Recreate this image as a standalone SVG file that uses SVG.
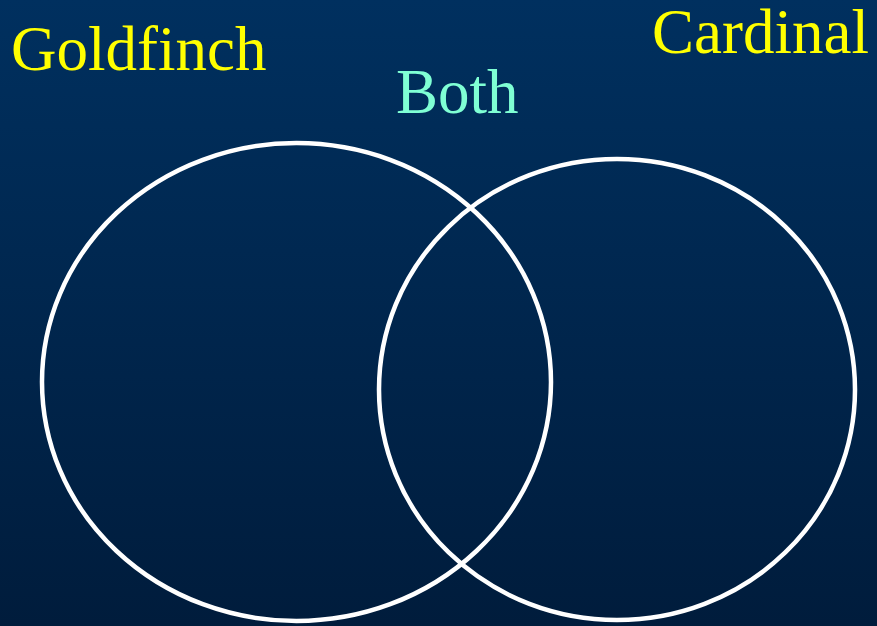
<svg xmlns="http://www.w3.org/2000/svg" width="877" height="626" viewBox="0 0 877 626">
<defs>
<linearGradient id="bg" x1="0" y1="0" x2="0" y2="1">
<stop offset="0" stop-color="#00305f"/>
<stop offset="1" stop-color="#001c3c"/>
</linearGradient>
<style>
.set{fill:none;stroke:#ffffff;stroke-width:4.5}
.lbl{font-family:"Liberation Serif","Times New Roman","DejaVu Serif",serif;font-size:63px}
</style>
</defs>
<rect width="877" height="626" fill="url(#bg)"/>
<g id="goldfinch">
<ellipse class="set" cx="296.5" cy="382" rx="254.5" ry="239"/>
<text class="lbl" x="11" y="70" fill="#ffff00">Goldfinch</text>
</g>
<g id="cardinal">
<ellipse class="set" cx="617" cy="389.5" rx="238" ry="230.5"/>
<text class="lbl" x="652" y="53" fill="#ffff00">Cardinal</text>
</g>
<g id="both">
<text class="lbl" x="396" y="113" fill="#7fffd4">Both</text>
</g>
<g id="connectors"/>
</svg>
